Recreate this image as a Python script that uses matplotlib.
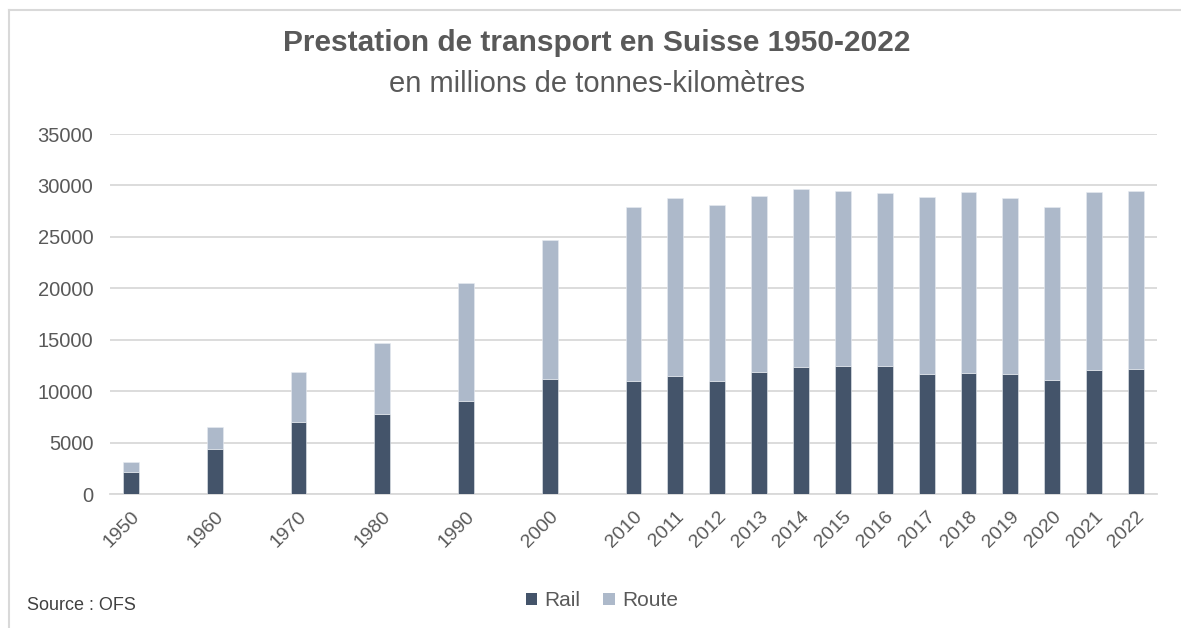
import matplotlib
matplotlib.use("Agg")
import matplotlib.pyplot as plt
from matplotlib.lines import Line2D
from matplotlib.patches import Patch

plt.rcParams['font.family'] = ['Liberation Sans', 'DejaVu Sans']

years = ["1950", "", "1960", "", "1970", "", "1980", "", "1990", "", "2000", "",
         "2010", "2011", "2012", "2013", "2014", "2015", "2016", "2017", "2018",
         "2019", "2020", "2021", "2022"]
rail = [2170, 0, 4340, 0, 7030, 0, 7740, 0, 9070, 0, 11140, 0,
        11010, 11500, 11010, 11890, 12370, 12470, 12470, 11630, 11790,
        11630, 11050, 12020, 12120]
total = [3140, 0, 6540, 0, 11890, 0, 14640, 0, 20540, 0, 24650, 0,
         27920, 28730, 28050, 29020, 29700, 29470, 29250, 28890, 29380,
         28730, 27920, 29380, 29480]
route = [t - r for t, r in zip(total, rail)]
yticks = [0, 5000, 10000, 15000, 20000, 25000, 30000, 35000]

W, H = 1181, 628
fig = plt.figure(figsize=(W / 100, H / 100), dpi=100)
ax = fig.add_axes([110 / W, 1 - 494 / H, (1157 - 110) / W, (494 - 134) / H])

c_rail = "#44546A"
c_route = "#ADB9CA"
txt = "#595959"

x = list(range(len(years)))
ax.bar(x, rail, width=0.38, color=c_rail, edgecolor="#E8ECF1", linewidth=0.4, zorder=3)
ax.bar(x, route, bottom=rail, width=0.38, color=c_route, edgecolor="#E8ECF1", linewidth=0.4, zorder=3)

ax.set_xlim(-0.5, len(years) - 0.5)
ax.set_ylim(0, 35000)
ax.set_yticks(yticks)
ax.set_yticklabels([str(v) for v in yticks], fontsize=14.5, color=txt)
ax.yaxis.grid(True, color="#D9D9D9", linewidth=1.3, zorder=0)
ax.set_axisbelow(True)
for s in ["top", "right", "left"]:
    ax.spines[s].set_visible(False)
ax.spines["bottom"].set_color("#D9D9D9")
ax.spines["bottom"].set_linewidth(1.3)
ax.tick_params(axis="both", length=0)
ax.tick_params(axis="y", pad=12)

tick_pos = [i for i, y in enumerate(years) if y]
ax.set_xticks(tick_pos)
ax.set_xticklabels([years[i] for i in tick_pos], rotation=45, ha="right",
                   rotation_mode="anchor", fontsize=14, color=txt)
ax.tick_params(axis="x", pad=10)

fig.text(597 / W, 1 - 43 / H, "Prestation de transport en Suisse 1950-2022",
         ha="center", va="center", fontsize=21.5, fontweight="bold", color=txt)
fig.text(597 / W, 1 - 84 / H, "en millions de tonnes-kilomètres",
         ha="center", va="center", fontsize=21, color=txt)

handles = [Patch(facecolor=c_rail, label="Rail"), Patch(facecolor=c_route, label="Route")]
fig.legend(handles=handles, loc="center", bbox_to_anchor=(602 / W, 1 - 601 / H),
           ncol=2, frameon=False, fontsize=15, handlelength=0.55, handleheight=0.55,
           handletextpad=0.35, columnspacing=1.1, labelcolor=txt)

fig.text(27 / W, 1 - 606 / H, "Source : OFS", ha="left", va="center",
         fontsize=13, color="#404040")

# frame lines (top and left)
fig.add_artist(Line2D([9 / W, 1], [1 - 10 / H, 1 - 10 / H], color="#D9D9D9", linewidth=1.5))
fig.add_artist(Line2D([9 / W, 9 / W], [0, 1 - 10 / H], color="#D9D9D9", linewidth=1.5))

fig.savefig("out.png", dpi=100, facecolor="white")
